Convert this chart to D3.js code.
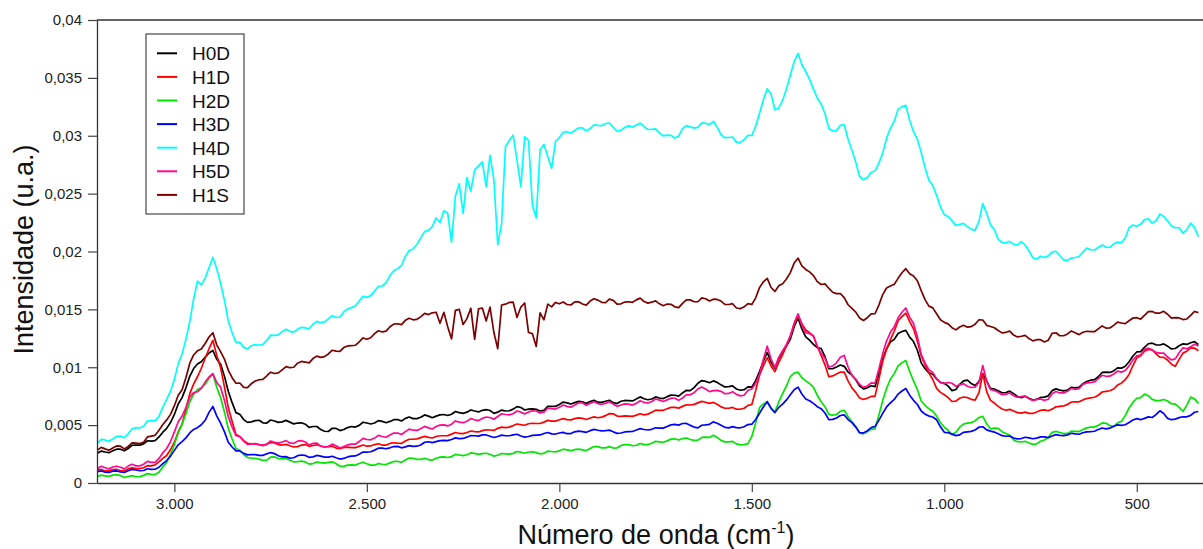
<!DOCTYPE html>
<html>
<head>
<meta charset="utf-8">
<script src="https://cdn.jsdelivr.net/npm/d3@7"></script>
<style>
  html, body { margin: 0; padding: 0; background: #ffffff; }
  svg { display: block; font-family: "Liberation Sans", Arial, sans-serif; }
</style>
</head>
<body>
<svg id="chart" width="1203" height="549"></svg>
<script>
// ---- data (intensities in units of 1e-5 u.a.) ----
const wavenumbers = [
 3200,3190,3180,3170,3160,3150,3140,3130,3120,3110,
 3100,3090,3080,3070,3060,3050,3040,3030,3020,3010,
 3000,2990,2980,2970,2960,2950,2940,2930,2920,2910,
 2900,2890,2880,2870,2860,2850,2840,2830,2820,2810,
 2800,2790,2780,2770,2760,2750,2740,2730,2720,2710,
 2700,2690,2680,2670,2660,2650,2640,2630,2620,2610,
 2600,2590,2580,2570,2560,2550,2540,2530,2520,2510,
 2500,2490,2480,2470,2460,2450,2440,2430,2420,2410,
 2400,2390,2380,2370,2360,2350,2340,2330,2320,2310,
 2300,2290,2280,2270,2260,2250,2240,2230,2220,2210,
 2200,2190,2180,2170,2160,2150,2140,2130,2120,2110,
 2100,2090,2080,2070,2060,2050,2040,2030,2020,2010,
 2000,1990,1980,1970,1960,1950,1940,1930,1920,1910,
 1900,1890,1880,1870,1860,1850,1840,1830,1820,1810,
 1800,1790,1780,1770,1760,1750,1740,1730,1720,1710,
 1700,1690,1680,1670,1660,1650,1640,1630,1620,1610,
 1600,1590,1580,1570,1560,1550,1540,1530,1520,1510,
 1500,1490,1480,1470,1460,1450,1440,1430,1420,1410,
 1400,1390,1380,1370,1360,1350,1340,1330,1320,1310,
 1300,1290,1280,1270,1260,1250,1240,1230,1220,1210,
 1200,1190,1180,1170,1160,1150,1140,1130,1120,1110,
 1100,1090,1080,1070,1060,1050,1040,1030,1020,1010,
 1000,990,980,970,960,950,940,930,920,910,
 900,890,880,870,860,850,840,830,820,810,
 800,790,780,770,760,750,740,730,720,710,
 700,690,680,670,660,650,640,630,620,610,
 600,590,580,570,560,550,540,530,520,510,
 500,490,480,470,460,450,440,430,420,410,
 400,390,380,370,360,350,340];

const seriesNames = ["H0D","H1D","H2D","H3D","H4D","H5D","H1S"];
const seriesColors = ["#000000","#ff0000","#00e600","#0000ff","#00ffff","#ff0a8c","#7d0000"];

const H0D = [
 257,276,268,262,278,292,292,278,298,326,
 328,327,338,365,362,366,398,439,472,522,
 592,682,738,822,922,989,1028,1047,1088,1123,
 1145,1069,1028,923,792,694,608,593,548,524,
 528,539,542,520,518,544,536,524,528,541,
 526,511,518,520,508,481,488,488,462,447,
 445,473,472,453,462,479,488,483,498,525,
 518,510,518,539,532,521,532,547,548,536,
 558,570,556,556,568,588,578,564,578,589,
 592,583,594,618,608,602,612,631,622,614,
 628,634,626,602,612,630,622,624,638,660,
 652,631,638,641,636,622,628,662,662,662,
 678,699,692,682,694,705,702,686,704,714,
 698,696,706,715,694,686,706,713,712,709,
 726,744,728,719,726,744,734,729,746,759,
 758,751,778,801,798,824,862,885,878,866,
 882,869,848,830,832,839,812,801,806,831,
 828,884,962,1052,1128,1043,992,1078,1138,1184,
 1242,1350,1428,1331,1262,1234,1198,1170,1162,1092,
 988,987,1002,1019,1008,959,932,892,838,813,
 822,840,832,946,1072,1160,1218,1241,1292,1309,
 1318,1260,1222,1147,1038,987,952,939,898,869,
 862,837,798,808,852,883,888,859,842,875,
 945,880,818,811,796,779,782,794,772,747,
 738,749,732,716,722,739,742,753,798,813,
 802,796,802,827,822,826,858,877,888,893,
 918,955,958,955,968,994,992,1009,1048,1097,
 1132,1135,1172,1203,1208,1194,1192,1202,1182,1158,
 1162,1186,1202,1197,1212,1221,1196];

const H1D = [
 112,117,104,103,116,117,108,104,122,131,
 124,124,132,150,148,156,182,213,238,289,
 352,441,508,635,772,854,918,991,1078,1160,
 1232,1104,998,833,652,531,418,402,366,343,
 338,338,332,327,334,351,346,332,328,334,
 322,311,314,328,332,317,324,330,320,313,
 314,318,302,296,308,310,306,305,316,328,
 318,320,332,339,328,328,342,348,344,342,
 362,378,378,381,392,403,394,389,402,408,
 408,409,422,436,428,427,436,449,444,441,
 452,460,458,454,472,483,478,483,496,510,
 504,499,512,516,514,514,526,541,534,535,
 546,556,548,545,556,562,558,549,562,571,
 564,569,582,600,598,578,576,580,578,576,
 586,598,588,595,612,629,628,628,642,653,
 654,647,662,676,674,679,692,705,698,688,
 696,680,658,646,646,653,638,637,646,671,
 678,798,932,1012,1082,1011,962,1043,1108,1186,
 1272,1370,1448,1376,1322,1298,1268,1179,1102,1021,
 918,925,942,959,958,883,822,783,734,722,
 732,748,748,896,1052,1155,1238,1311,1402,1438,
 1468,1394,1332,1226,1098,1020,952,894,818,783,
 762,738,704,707,732,743,738,723,716,780,
 945,790,714,691,662,639,628,636,622,608,
 604,612,602,601,614,628,632,624,638,658,
 662,666,678,700,702,701,718,730,736,741,
 758,786,792,797,812,846,862,893,938,1015,
 1082,1099,1138,1153,1152,1116,1088,1085,1062,1026,
 1008,1068,1122,1139,1168,1166,1142];

const H2D = [
 55,68,62,57,68,72,64,48,56,64,
 54,55,66,81,74,73,92,139,178,248,
 332,432,508,599,702,765,808,822,852,903,
 942,828,738,614,472,380,298,283,246,220,
 214,214,206,195,198,224,226,211,208,212,
 196,182,184,189,182,163,168,181,176,172,
 178,183,166,145,144,154,156,155,168,179,
 166,154,154,168,162,160,174,186,186,180,
 198,215,214,204,204,214,202,198,214,224,
 226,220,228,247,242,237,244,260,256,247,
 254,257,248,232,240,255,252,249,256,272,
 266,257,268,269,262,252,256,276,272,269,
 278,292,286,279,288,293,286,280,298,315,
 314,304,304,314,302,303,324,332,332,322,
 326,341,332,332,344,360,356,352,364,379,
 382,371,384,389,376,368,370,394,396,394,
 412,394,368,355,356,359,338,329,332,340,
 402,519,652,683,702,645,612,701,772,840,
 918,949,958,910,882,859,828,758,702,659,
 592,586,592,620,628,572,532,488,432,425,
 442,464,468,585,712,816,898,945,1012,1039,
 1058,963,882,807,708,669,642,620,578,522,
 482,456,418,438,482,509,518,522,536,566,
 575,511,468,474,472,443,428,412,372,357,
 354,360,346,334,338,361,372,393,438,446,
 436,427,428,448,446,444,462,476,482,483,
 498,519,516,496,488,520,532,582,648,696,
 732,738,768,754,722,712,712,721,708,685,
 682,654,618,673,742,727,688];

const H3D = [
 98,104,94,91,102,104,96,91,106,118,
 112,106,108,123,118,119,136,168,194,232,
 282,330,358,390,432,463,478,503,542,610,
 662,580,518,444,352,311,278,277,256,243,
 246,245,238,239,252,263,254,235,226,228,
 214,218,236,242,238,222,226,238,232,224,
 224,231,218,207,212,225,232,234,248,267,
 266,270,284,301,302,296,304,315,316,304,
 312,323,316,318,328,352,356,349,358,366,
 368,366,376,390,384,385,396,410,408,405,
 416,415,404,393,402,414,408,408,416,421,
 406,396,402,411,414,415,428,436,424,423,
 432,437,426,427,442,448,444,438,452,463,
 456,450,452,457,442,429,432,441,444,445,
 458,470,462,458,464,477,474,474,488,502,
 506,500,514,515,498,483,476,499,502,507,
 528,516,498,481,476,487,478,477,486,505,
 508,548,602,657,702,645,608,654,682,718,
 762,805,828,769,726,710,688,659,642,605,
 548,550,562,583,588,548,522,483,434,433,
 452,479,488,541,602,657,692,722,768,795,
 816,759,714,678,622,595,578,570,546,485,
 438,435,422,409,416,438,442,446,458,482,
 486,459,448,440,426,409,404,406,388,381,
 384,395,390,382,388,398,398,392,406,418,
 412,410,416,430,424,421,434,442,444,447,
 462,475,468,474,490,502,498,503,522,544,
 556,547,558,571,566,591,624,601,558,547,
 552,565,572,572,584,611,618];

const H4D = [
 343,377,372,360,380,403,405,391,425,469,
 478,475,490,536,538,537,576,656,722,794,
 895,1029,1115,1243,1395,1590,1745,1712,1770,1860,
 1950,1850,1725,1580,1400,1298,1215,1215,1172,1159,
 1186,1195,1190,1197,1232,1278,1276,1280,1308,1329,
 1310,1303,1328,1345,1340,1332,1372,1396,1385,1392,
 1418,1446,1430,1434,1478,1503,1515,1529,1572,1612,
 1604,1619,1658,1700,1702,1731,1792,1833,1852,1881,
 1958,2008,2022,2061,2118,2172,2182,2216,2290,2250,
 2352,2330,2080,2480,2585,2330,2640,2520,2705,2740,
 2775,2560,2830,2620,2060,2240,2905,2960,3005,2790,
 2560,2990,2960,2400,2290,2880,2925,2820,2720,2950,
 2985,3030,3035,3024,3045,3067,3068,3041,3062,3094,
 3090,3088,3105,3110,3072,3039,3046,3072,3085,3074,
 3092,3109,3078,3054,3055,3060,3025,2999,3005,3003,
 2980,2997,3062,3088,3078,3066,3072,3112,3108,3096,
 3125,3074,3010,2983,2985,2989,2945,2943,2965,3003,
 3002,3082,3195,3311,3405,3360,3225,3240,3305,3406,
 3525,3640,3712,3613,3555,3487,3405,3326,3275,3192,
 3062,3041,3045,3090,3095,2969,2875,2772,2648,2620,
 2640,2685,2695,2763,2850,2979,3065,3126,3228,3252,
 3262,3134,3035,2969,2855,2723,2615,2570,2485,2385,
 2318,2302,2265,2226,2235,2243,2215,2191,2185,2260,
 2415,2330,2228,2190,2105,2078,2075,2088,2062,2057,
 2085,2056,2005,1946,1935,1959,1948,1962,1995,2002,
 1965,1925,1925,1943,1948,1957,1995,2029,2015,2013,
 2035,2056,2038,2035,2065,2081,2075,2116,2205,2229,
 2218,2237,2275,2282,2245,2265,2325,2302,2265,2221,
 2205,2205,2158,2189,2245,2206,2128];

const H5D = [
 126,145,132,122,138,145,136,122,146,162,
 148,148,162,187,178,179,212,260,298,358,
 442,529,578,651,742,781,788,817,872,916,
 945,867,828,715,572,483,408,402,362,334,
 338,340,332,322,336,363,352,344,354,366,
 346,341,362,366,354,329,342,345,318,310,
 316,336,322,302,314,330,336,335,358,386,
 376,373,388,411,402,395,414,431,432,419,
 444,465,456,455,468,489,476,466,488,500,
 502,493,508,536,526,521,534,556,546,539,
 558,570,566,551,574,598,592,588,598,622,
 612,597,614,623,622,605,612,646,642,639,
 654,674,662,655,674,691,692,671,688,702,
 686,680,688,702,682,662,674,683,682,673,
 688,711,696,691,704,726,716,704,718,733,
 732,714,734,763,762,780,812,829,812,789,
 798,800,792,771,774,789,766,753,758,801,
 812,862,938,1068,1182,1071,998,1085,1142,1198,
 1268,1382,1462,1364,1298,1290,1272,1183,1118,1079,
 1002,1011,1038,1086,1102,1002,928,898,852,826,
 838,865,862,983,1118,1227,1302,1349,1428,1475,
 1512,1433,1378,1264,1112,1036,978,956,902,867,
 858,868,862,836,848,857,836,825,828,870,
 1015,880,806,800,784,763,766,779,754,741,
 746,753,728,712,722,726,714,724,772,790,
 778,778,792,817,808,814,852,865,868,873,
 902,931,922,923,942,966,958,972,1012,1063,
 1098,1106,1152,1165,1148,1128,1122,1122,1088,1064,
 1072,1125,1168,1160,1176,1199,1184];

const H1S = [
 285,308,295,283,302,320,318,295,316,346,
 345,340,352,398,405,412,455,506,545,593,
 668,758,805,909,1035,1106,1142,1158,1205,1261,
 1298,1194,1135,1071,975,910,862,864,826,824,
 858,881,892,895,925,957,946,951,978,1005,
 996,1000,1035,1050,1045,1038,1075,1096,1085,1092,
 1115,1147,1140,1137,1170,1184,1186,1190,1220,1253,
 1242,1255,1290,1315,1305,1312,1350,1373,1376,1368,
 1405,1423,1410,1414,1435,1465,1455,1470,1475,1380,
 1475,1350,1245,1492,1500,1370,1420,1510,1240,1505,
 1512,1400,1520,1300,1160,1538,1545,1560,1562,1430,
 1520,1555,1300,1290,1180,1470,1410,1545,1522,1560,
 1548,1563,1542,1538,1565,1565,1546,1537,1572,1592,
 1580,1561,1558,1588,1578,1545,1548,1563,1566,1561,
 1582,1597,1568,1554,1562,1573,1548,1532,1546,1544,
 1522,1515,1552,1583,1582,1566,1566,1599,1592,1572,
 1588,1586,1572,1544,1542,1549,1512,1506,1522,1550,
 1542,1600,1688,1738,1768,1689,1655,1704,1722,1762,
 1818,1900,1942,1875,1845,1824,1792,1740,1715,1720,
 1682,1648,1636,1637,1602,1540,1508,1476,1425,1404,
 1428,1461,1462,1537,1628,1685,1702,1717,1768,1816,
 1852,1807,1788,1747,1662,1584,1528,1513,1462,1410,
 1388,1375,1342,1323,1348,1363,1346,1351,1372,1410,
 1408,1362,1352,1341,1318,1297,1302,1312,1278,1262,
 1268,1276,1248,1228,1238,1238,1218,1233,1292,1298,
 1272,1272,1288,1313,1298,1282,1302,1311,1308,1307,
 1332,1357,1338,1339,1362,1390,1382,1377,1402,1425,
 1428,1416,1448,1481,1482,1467,1468,1483,1458,1425,
 1428,1426,1412,1417,1448,1482,1472];

const valueUnit = 1e-5;
const xTickValues = [3000, 2500, 2000, 1500, 1000, 500];
const xTickLabels = ["3.000", "2.500", "2.000", "1.500", "1.000", "500"];
const yTickValues = [0, 0.005, 0.01, 0.015, 0.02, 0.025, 0.03, 0.035, 0.04];
const yTickLabels = ["0", "0,005", "0,01", "0,015", "0,02", "0,025", "0,03", "0,035", "0,04"];

// ---- drawing ----
const seriesData = [H0D, H1D, H2D, H3D, H4D, H5D, H1S];
const W = 1203, H = 549;
const L = 97, T = 20, B = 483, R = 1203;
const svg = d3.select("#chart");
svg.append("rect").attr("width", W).attr("height", H).attr("fill", "#fff");

const x = d3.scaleLinear().domain([3201, 328]).range([L, R]);
const y = d3.scaleLinear().domain([0, 0.04]).range([B, T]);

svg.append("defs").append("clipPath").attr("id", "plotclip")
  .append("rect").attr("x", L).attr("y", T - 2).attr("width", R - L).attr("height", B - T + 2);

const line = d3.line()
  .defined((d, i) => i < wavenumbers.length)
  .x((d, i) => x(wavenumbers[i]))
  .y(d => y(d * valueUnit));

const g = svg.append("g").attr("clip-path", "url(#plotclip)");
seriesData.forEach((s, k) => {
  g.append("path")
    .datum(s)
    .attr("d", line)
    .attr("fill", "none")
    .attr("stroke", seriesColors[k])
    .attr("stroke-width", 1.7)
    .attr("stroke-linejoin", "round");
});

// frame: top line
svg.append("line").attr("x1", L).attr("x2", R).attr("y1", T).attr("y2", T)
  .attr("stroke", "#333").attr("stroke-width", 1.3);

// axes
const xAxis = d3.axisBottom(x).tickValues(xTickValues)
  .tickFormat((d, i) => xTickLabels[i]).tickSize(9).tickSizeOuter(0).tickPadding(6);
const gx = svg.append("g").attr("transform", `translate(0,${B})`).call(xAxis);
gx.select(".domain").attr("stroke", "#333").attr("stroke-width", 1.3);
gx.selectAll(".tick line").attr("stroke", "#444").attr("stroke-width", 1.2);
gx.selectAll(".tick text").attr("font-size", "15px").attr("fill", "#222")
  .attr("font-family", "Liberation Sans, Arial, sans-serif");

const yAxis = d3.axisLeft(y).tickValues(yTickValues)
  .tickFormat((d, i) => yTickLabels[i]).tickSize(9).tickSizeOuter(0).tickPadding(6);
const gy = svg.append("g").attr("transform", `translate(${L},0)`).call(yAxis);
gy.select(".domain").attr("stroke", "#333").attr("stroke-width", 1.3);
gy.selectAll(".tick line").attr("stroke", "#444").attr("stroke-width", 1.2);
gy.selectAll(".tick text").attr("font-size", "15px").attr("fill", "#222")
  .attr("font-family", "Liberation Sans, Arial, sans-serif");

// axis titles
svg.append("text")
  .attr("transform", `translate(33,${(T + B) / 2 - 2}) rotate(-90)`)
  .attr("text-anchor", "middle")
  .attr("font-size", "27px").attr("fill", "#111")
  .text("Intensidade (u.a.)");

const xt = svg.append("text")
  .attr("x", 656).attr("y", 544)
  .attr("text-anchor", "middle")
  .attr("font-size", "27px").attr("fill", "#111");
xt.append("tspan").text("Número de onda (cm");
xt.append("tspan").attr("dy", -11).attr("font-size", "16px").text("-1");
xt.append("tspan").attr("dy", 11).text(")");

// legend
const lg = svg.append("g");
lg.append("rect").attr("x", 146).attr("y", 34).attr("width", 98).attr("height", 180)
  .attr("fill", "#fff").attr("stroke", "#555").attr("stroke-width", 1.3);
seriesNames.forEach((name, i) => {
  const yy = 53.3 + i * 23.6;
  lg.append("line").attr("x1", 157).attr("x2", 177).attr("y1", yy).attr("y2", yy)
    .attr("stroke", seriesColors[i]).attr("stroke-width", 2);
  lg.append("text").attr("x", 192).attr("y", yy + 7)
    .attr("font-size", "19px").attr("fill", "#111").text(name);
});
</script>
</body>
</html>
